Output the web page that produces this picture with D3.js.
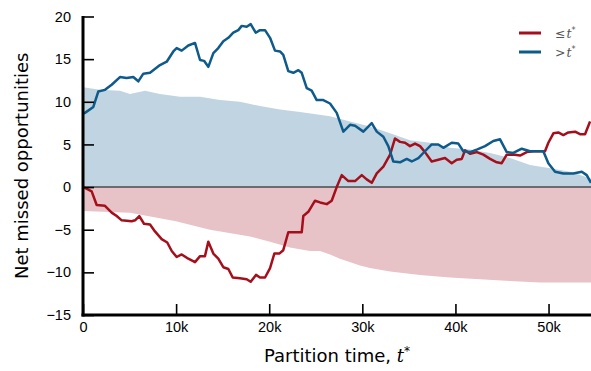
<!DOCTYPE html>
<html lang="en">
<head>
<meta charset="UTF-8">
<title>Net missed opportunities</title>
<script src="https://d3js.org/d3.v7.min.js"></script>
<style>
  body { margin: 0; background: #fff; }
  svg { display: block; font-family: "DejaVu Sans", sans-serif; }
  .tick text { font-size: 14.5px; fill: #000; }
</style>
</head>
<body>
<svg width="591" height="371"></svg>
<script>
// partition time in thousands
const gtT = [0, 0.21, 1.11, 1.64, 2.36, 3.08, 3.97, 4.69, 5.40, 5.94, 6.48, 7.20, 8.27, 8.99, 9.70, 10.06, 10.60, 11.31, 12.03, 12.57, 13.00, 13.46, 14.00, 14.53, 15.07, 15.61, 16.14, 16.68, 17.05, 17.58, 18.01, 18.55, 19.01, 19.55, 20.09, 20.62, 21.16, 21.51, 22.05, 22.59, 23.13, 23.49, 24.03, 24.56, 25.10, 25.81, 26.53, 27.25, 27.96, 28.68, 29.22, 30.11, 31.01, 31.55, 32.26, 32.79, 33.33, 34.05, 34.77, 35.31, 36.02, 36.73, 37.45, 38.16, 38.70, 39.60, 40.31, 40.85, 41.57, 42.29, 43.18, 44.07, 44.79, 45.51, 46.22, 47.12, 48.01, 49.44, 49.98, 50.70, 51.59, 52.66, 53.57, 54.10, 54.56];
const gtVal = [8.6, 8.7, 9.4, 11.2, 11.4, 12.0, 12.9, 12.8, 12.9, 12.4, 13.3, 13.4, 14.3, 14.7, 15.9, 16.3, 16.0, 16.6, 16.9, 14.9, 14.8, 14.1, 15.7, 16.3, 17.1, 17.5, 18.1, 18.4, 18.9, 18.8, 19.1, 18.1, 18.4, 18.4, 17.5, 16.0, 15.9, 15.5, 13.6, 13.4, 13.7, 13.4, 11.6, 11.3, 10.2, 10.2, 9.8, 8.7, 6.5, 7.3, 7.2, 6.5, 7.5, 6.5, 5.9, 4.8, 3.0, 2.9, 3.3, 3.0, 3.4, 4.2, 5.0, 5.0, 4.6, 5.2, 5.1, 4.2, 4.1, 4.4, 4.8, 5.4, 5.6, 4.1, 4.0, 4.5, 4.2, 4.2, 2.8, 1.8, 1.6, 1.6, 1.8, 1.4, 0.5];

const leT = [0, 0.21, 0.93, 1.47, 2.36, 3.08, 3.62, 4.16, 5.23, 5.59, 6.05, 6.55, 7.20, 7.73, 8.45, 9.05, 9.53, 10.06, 10.60, 11.31, 12.03, 12.57, 13.10, 13.46, 14.00, 14.53, 15.07, 15.61, 16.08, 16.86, 17.58, 18.01, 18.58, 19.01, 19.55, 20.09, 20.55, 21.08, 21.51, 22.05, 23.49, 23.66, 24.20, 24.92, 25.46, 26.18, 26.71, 27.25, 27.79, 28.50, 29.22, 29.94, 30.47, 31.01, 31.55, 32.26, 32.98, 33.51, 34.05, 34.59, 35.12, 35.66, 36.20, 36.73, 37.45, 38.16, 38.88, 39.60, 40.14, 40.68, 41.03, 41.57, 42.29, 43.00, 43.72, 44.44, 44.97, 45.51, 46.40, 46.94, 47.66, 48.37, 49.62, 49.98, 50.52, 51.05, 51.59, 52.13, 52.85, 53.38, 53.92, 54.46];
const leVal = [0, -0.1, -0.5, -2.1, -2.2, -3.0, -3.4, -3.9, -4.0, -3.9, -3.4, -4.3, -4.4, -5.2, -6.1, -6.5, -7.5, -8.2, -7.9, -8.4, -8.8, -8.1, -8.1, -6.4, -7.8, -8.4, -9.4, -9.6, -10.6, -10.7, -10.8, -11.1, -10.3, -10.6, -10.6, -9.5, -7.8, -7.8, -7.4, -5.3, -5.3, -3.4, -2.9, -1.6, -1.8, -2.0, -1.6, 0.0, 1.4, 0.7, 0.7, 1.4, 0.9, 0.5, 1.6, 2.4, 3.8, 5.7, 5.3, 5.2, 4.8, 5.1, 4.8, 4.1, 3.0, 3.2, 3.4, 2.8, 3.2, 3.3, 4.3, 3.9, 4.1, 3.8, 3.3, 2.9, 2.8, 3.8, 3.8, 3.7, 4.1, 4.2, 4.2, 5.2, 6.3, 6.4, 6.1, 6.4, 6.5, 6.2, 6.2, 7.7];

// shaded ranges
const upT = [0, 1.83, 3.97, 5.05, 6.66, 8.27, 10.42, 12.57, 14.72, 16.86, 19.01, 21.16, 23.31, 26.53, 28.68, 30.83, 32.98, 35.12, 37.27, 39.42, 41.57, 43.72, 45.86, 48.01, 50.16, 52.31, 54.56];
const upVal = [11.7, 11.4, 11.3, 10.9, 11.3, 10.9, 10.6, 10.6, 10.2, 10.0, 9.5, 9.1, 8.8, 8.3, 7.7, 7.1, 6.3, 5.5, 5.2, 4.6, 4.4, 4.0, 3.4, 2.6, 2.2, 1.8, 1.0];
const lowT = [0, 5.05, 9.99, 13.64, 17.94, 20.09, 22.23, 24.38, 25.46, 26.53, 27.60, 29.75, 30.83, 32.98, 36.20, 39.42, 42.64, 45.86, 49.09, 52.31, 54.56];
const lowVal = [-2.8, -3.0, -4.0, -5.0, -5.8, -6.4, -7.1, -7.5, -7.5, -7.9, -8.4, -9.2, -9.5, -9.9, -10.3, -10.6, -10.8, -11.0, -11.2, -11.2, -11.2];

const xTicks = [0, 10, 20, 30, 40, 50];
const yTicks = [-15, -10, -5, 0, 5, 10, 15, 20];

const svg = d3.select("svg");
const margin = {left: 83, right: 0, top: 16.5, bottom: 56};
const W = 591, H = 371;

const x = d3.scaleLinear().domain([0, 54.56]).range([margin.left, W - margin.right]);
const y = d3.scaleLinear().domain([-15, 20]).range([H - margin.bottom, margin.top]);

const blue = "#0e5a8a", red = "#a50f1c";

const zip = (a, b) => a.map((t, i) => [t, b[i]]);

const area = d3.area().x(d => x(d[0])).y0(y(0)).y1(d => y(d[1]));
svg.append("path").datum(zip(upT, upVal)).attr("d", area).attr("fill", "#c0d5e1");
svg.append("path").datum(zip(lowT, lowVal)).attr("d", area).attr("fill", "#e7c2c6");

svg.append("line")
    .attr("x1", x(0)).attr("x2", W)
    .attr("y1", y(0)).attr("y2", y(0))
    .attr("stroke", "#4a4a4a").attr("stroke-width", 1.6);

const line = d3.line().x(d => x(d[0])).y(d => y(d[1]));
svg.append("path").datum(zip(leT, leVal)).attr("d", line)
    .attr("fill", "none").attr("stroke", red).attr("stroke-width", 2.5).attr("stroke-linejoin", "round");
svg.append("path").datum(zip(gtT, gtVal)).attr("d", line)
    .attr("fill", "none").attr("stroke", blue).attr("stroke-width", 2.5).attr("stroke-linejoin", "round");

// axes, ticks pointing inward
const xAxis = svg.append("g")
    .attr("transform", `translate(0,${y(-15)})`)
    .call(d3.axisBottom(x).tickValues(xTicks).tickSize(-11).tickPadding(7)
        .tickFormat(d => d === 0 ? "0" : d + "k"));
const yAxis = svg.append("g")
    .attr("transform", `translate(${x(0)},0)`)
    .call(d3.axisLeft(y).tickValues(yTicks).tickSize(-11).tickPadding(12));

[xAxis, yAxis].forEach(a => {
  a.select(".domain").remove();
  a.selectAll(".tick line").attr("stroke", "#000").attr("stroke-width", 1.6);
});

// spines
svg.append("line").attr("x1", x(0)).attr("x2", x(0)).attr("y1", y(20) - 0.5).attr("y2", y(-15) + 1.5)
    .attr("stroke", "#000").attr("stroke-width", 3);
svg.append("line").attr("x1", x(0) - 1.5).attr("x2", W).attr("y1", y(-15)).attr("y2", y(-15))
    .attr("stroke", "#000").attr("stroke-width", 3);

// axis labels
svg.append("text")
    .attr("transform", `translate(28,${(y(20) + y(-15)) / 2}) rotate(-90)`)
    .attr("text-anchor", "middle").attr("font-size", 18)
    .text("Net missed opportunities");

const xl = svg.append("text")
    .attr("x", (x(0) + W) / 2).attr("y", 362)
    .attr("text-anchor", "middle").attr("font-size", 18);
xl.append("tspan").text("Partition time, ");
xl.append("tspan").attr("font-family", "DejaVu Serif").attr("font-style", "italic").text("t");
xl.append("tspan").attr("font-size", 12).attr("dy", -7).text("*");

// legend
const legend = [{label: "\u2264", color: red}, {label: ">", color: blue}];
const lg = svg.append("g").attr("transform", "translate(519,33)");
legend.forEach((d, i) => {
  const row = lg.append("g").attr("transform", `translate(0,${i * 19})`);
  row.append("line").attr("x1", 0).attr("x2", 22).attr("stroke", d.color).attr("stroke-width", 3);
  const t = row.append("text").attr("x", 36).attr("y", 4.5).attr("font-size", 12.5).attr("fill", "#555");
  t.append("tspan").text(d.label);
  t.append("tspan").attr("font-family", "DejaVu Serif").attr("font-style", "italic").attr("dx", 1).text("t");
  t.append("tspan").attr("font-size", 8).attr("dy", -5).text("*");
});
</script>
</body>
</html>
